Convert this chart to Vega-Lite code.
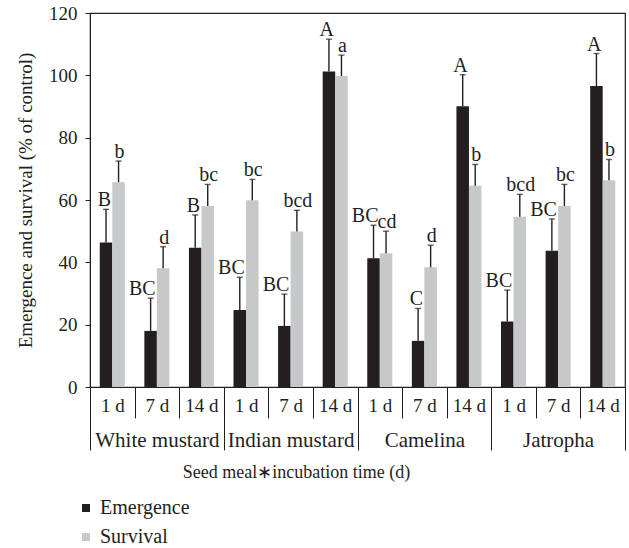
{
  "$schema": "https://vega.github.io/schema/vega-lite/v6.json",
  "width": 535,
  "height": 374,
  "autosize": {"type": "none"},
  "padding": {"left": 90, "top": 13, "right": 4, "bottom": 161},
  "background": "white",
  "config": {
    "font": "Liberation Serif",
    "view": {"stroke": "#231f20", "strokeWidth": 1.2},
    "axis": {"domainColor": "#231f20", "tickColor": "#231f20", "labelColor": "#231f20", "titleColor": "#231f20", "labelFont": "Liberation Serif", "titleFont": "Liberation Serif", "labelFontSize": 19, "titleFontSize": 18, "titleFontWeight": "normal", "grid": false},
    "legend": {"labelFont": "Liberation Serif", "labelFontSize": 20, "labelColor": "#231f20"}
  },
  "data": {
    "values": [
      {"meal": "White mustard", "group": "White mustard|1 d", "series": "Emergence", "value": 46.4, "upper": 57.0, "label": "B"},
      {"meal": "White mustard", "group": "White mustard|1 d", "series": "Survival", "value": 65.7, "upper": 72.5, "label": "b"},
      {"meal": "White mustard", "group": "White mustard|7 d", "series": "Emergence", "value": 18.0, "upper": 28.5, "label": "BC"},
      {"meal": "White mustard", "group": "White mustard|7 d", "series": "Survival", "value": 38.1, "upper": 45.0, "label": "d"},
      {"meal": "White mustard", "group": "White mustard|14 d", "series": "Emergence", "value": 44.7, "upper": 55.2, "label": "B"},
      {"meal": "White mustard", "group": "White mustard|14 d", "series": "Survival", "value": 58.1, "upper": 65.0, "label": "bc"},
      {"meal": "Indian mustard", "group": "Indian mustard|1 d", "series": "Emergence", "value": 24.7, "upper": 35.2, "label": "BC"},
      {"meal": "Indian mustard", "group": "Indian mustard|1 d", "series": "Survival", "value": 59.9, "upper": 66.6, "label": "bc"},
      {"meal": "Indian mustard", "group": "Indian mustard|7 d", "series": "Emergence", "value": 19.6, "upper": 29.8, "label": "BC"},
      {"meal": "Indian mustard", "group": "Indian mustard|7 d", "series": "Survival", "value": 49.9, "upper": 56.7, "label": "bcd"},
      {"meal": "Indian mustard", "group": "Indian mustard|14 d", "series": "Emergence", "value": 101.2, "upper": 111.6, "label": "A"},
      {"meal": "Indian mustard", "group": "Indian mustard|14 d", "series": "Survival", "value": 99.8, "upper": 106.5, "label": "a"},
      {"meal": "Camelina", "group": "Camelina|1 d", "series": "Emergence", "value": 41.3, "upper": 51.9, "label": "BC"},
      {"meal": "Camelina", "group": "Camelina|1 d", "series": "Survival", "value": 42.9, "upper": 50.0, "label": "cd"},
      {"meal": "Camelina", "group": "Camelina|7 d", "series": "Emergence", "value": 14.8, "upper": 25.2, "label": "C"},
      {"meal": "Camelina", "group": "Camelina|7 d", "series": "Survival", "value": 38.4, "upper": 45.5, "label": "d"},
      {"meal": "Camelina", "group": "Camelina|14 d", "series": "Emergence", "value": 90.1, "upper": 100.2, "label": "A"},
      {"meal": "Camelina", "group": "Camelina|14 d", "series": "Survival", "value": 64.6, "upper": 71.4, "label": "b"},
      {"meal": "Jatropha", "group": "Jatropha|1 d", "series": "Emergence", "value": 21.0, "upper": 31.1, "label": "BC"},
      {"meal": "Jatropha", "group": "Jatropha|1 d", "series": "Survival", "value": 54.6, "upper": 61.8, "label": "bcd"},
      {"meal": "Jatropha", "group": "Jatropha|7 d", "series": "Emergence", "value": 43.7, "upper": 53.9, "label": "BC"},
      {"meal": "Jatropha", "group": "Jatropha|7 d", "series": "Survival", "value": 58.1, "upper": 65.0, "label": "bc"},
      {"meal": "Jatropha", "group": "Jatropha|14 d", "series": "Emergence", "value": 96.6, "upper": 107.0, "label": "A"},
      {"meal": "Jatropha", "group": "Jatropha|14 d", "series": "Survival", "value": 66.3, "upper": 73.0, "label": "b"}
    ]
  },
  "resolve": {"scale": {"x": "independent"}, "axis": {"x": "independent"}},
  "layer": [
    {
      "layer": [
        {
          "mark": {"type": "bar"},
          "encoding": {
            "x": {"field": "group", "type": "nominal", "sort": null,
              "scale": {"paddingInner": 0, "paddingOuter": 0},
              "axis": {"orient": "bottom", "title": null, "labelAngle": 0, "tickBand": "extent", "tickSize": 31, "labelPadding": -22, "labelExpr": "split(datum.label, '|')[1]", "domain": true, "labelFontSize": 19}},
            "xOffset": {"field": "series", "type": "nominal", "scale": {"domain": ["Emergence", "Survival"], "paddingOuter": 0.78, "paddingInner": 0}},
            "y": {"field": "value", "type": "quantitative",
              "scale": {"domain": [0, 120], "nice": false},
              "axis": {"values": [0, 20, 40, 60, 80, 100, 120], "tickSize": 5, "labelPadding": 8, "title": "Emergence and survival (% of control)", "titlePadding": 13, "titleFontSize": 19, "labelFontSize": 19}},
            "color": {"field": "series", "type": "nominal",
              "scale": {"domain": ["Emergence", "Survival"], "range": ["#231f20", "#c7c8ca"]},
              "legend": {"title": null, "orient": "none", "legendX": -14, "legendY": 485, "direction": "vertical", "symbolType": "square", "symbolSize": 64, "symbolStrokeWidth": 0, "labelOffset": 4, "rowPadding": 9, "padding": 0}}
          }
        },
        {
          "mark": {"type": "rule", "color": "#231f20", "strokeWidth": 1.4},
          "encoding": {
            "x": {"field": "group", "type": "nominal", "sort": null},
            "xOffset": {"field": "series", "type": "nominal"},
            "y": {"field": "value", "type": "quantitative"},
            "y2": {"field": "upper"}
          }
        },
        {
          "mark": {"type": "tick", "color": "#231f20", "thickness": 1.4, "size": 6, "orient": "horizontal"},
          "encoding": {
            "x": {"field": "group", "type": "nominal", "sort": null},
            "xOffset": {"field": "series", "type": "nominal"},
            "y": {"field": "upper", "type": "quantitative"}
          }
        },
        {
          "transform": [{"filter": "datum.series === 'Emergence'"}],
          "mark": {"type": "text", "baseline": "alphabetic", "align": "right", "dx": 5, "dy": -3, "fontSize": 20, "color": "#231f20"},
          "encoding": {
            "x": {"field": "group", "type": "nominal", "sort": null},
            "xOffset": {"field": "series", "type": "nominal"},
            "y": {"field": "upper", "type": "quantitative"},
            "text": {"field": "label"}
          }
        },
        {
          "transform": [{"filter": "datum.series === 'Survival'"}],
          "mark": {"type": "text", "baseline": "alphabetic", "align": "center", "dx": 1, "dy": -3, "fontSize": 20, "color": "#231f20"},
          "encoding": {
            "x": {"field": "group", "type": "nominal", "sort": null},
            "xOffset": {"field": "series", "type": "nominal"},
            "y": {"field": "upper", "type": "quantitative"},
            "text": {"field": "label"}
          }
        }
      ]
    },
    {
      "mark": {"type": "point", "opacity": 0},
      "encoding": {
        "x": {"field": "meal", "type": "nominal", "sort": null,
          "scale": {"paddingInner": 0, "paddingOuter": 0},
          "axis": {"orient": "bottom", "labelAngle": 0, "tickBand": "extent", "tickSize": 63, "labelPadding": -21, "labelFontSize": 21, "title": "Seed meal\u2217incubation time (d)", "titleX": 206, "titleY": 76, "titleBaseline": "top", "titleFontSize": 18}}
      }
    }
  ]
}
